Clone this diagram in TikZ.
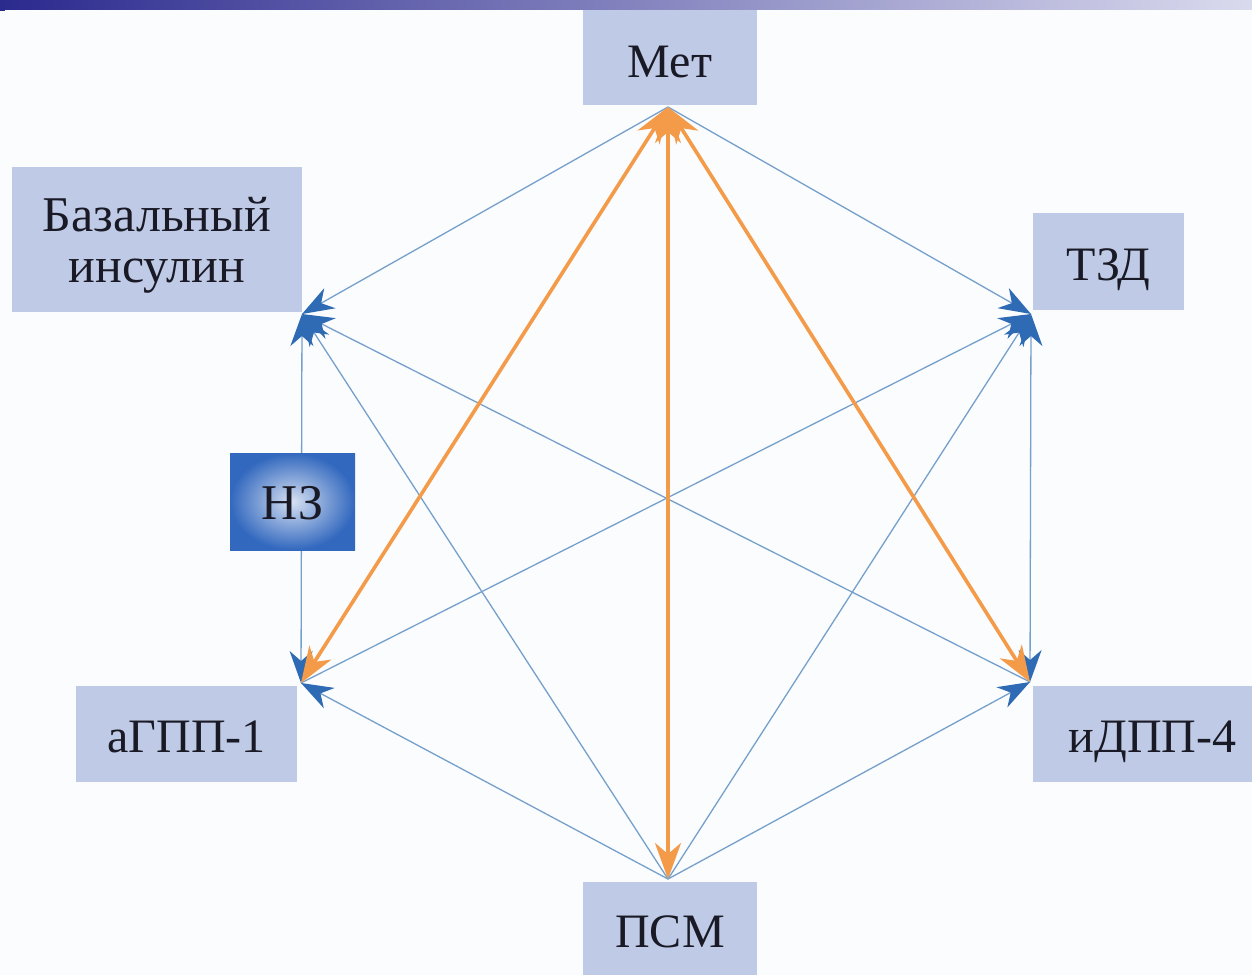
\documentclass[tikz,border=0pt]{standalone}
\usepackage{fontspec}
\setmainfont{Liberation Serif}
\usetikzlibrary{arrows.meta}
\definecolor{bgc}{HTML}{FBFCFE}
\definecolor{boxfill}{HTML}{BFCBE6}
\definecolor{lineblue}{HTML}{76A0CC}
\definecolor{tipblue}{HTML}{2E6BB4}
\definecolor{orng}{HTML}{F39B48}
\definecolor{txt}{HTML}{1A1A26}
\definecolor{barL}{HTML}{2B2A8E}
\definecolor{barR}{HTML}{DADAEE}
\definecolor{nzin}{HTML}{D6E0F2}
\definecolor{nzout}{HTML}{3268BE}
\begin{document}
\begin{tikzpicture}[x=1pt,y=-1pt,
  box/.style={fill=boxfill, inner sep=0pt, text=txt, font=\fontsize{48}{45}\selectfont, align=center, text height=37pt, text depth=0pt},
  bl/.style={draw=lineblue, line width=1.3pt},
  btip/.tip={Stealth[color=tipblue,length=32pt,width=23pt,inset=10pt]},
  otip/.tip={Stealth[color=orng,length=36pt,width=26pt,inset=11pt]},
  bt/.style={-btip},
  btt/.style={btip-btip},
  ol/.style={draw=orng, line width=3.6pt, otip-otip}
]
\useasboundingbox (0,0) rectangle (1252,975);
\fill[bgc] (0,0) rectangle (1252,975);

% boxes
\node[box, minimum width=174pt, minimum height=96pt, text height=40pt] (met) at (670,57) {Мет};
\node[box, minimum width=290pt, minimum height=145pt, font=\fontsize{50}{51}\selectfont, text height=, text depth=0pt] (bas) at (157,239.5) {Базальный\\инсулин};
\node[box, minimum width=151pt, minimum height=97pt] (tzd) at (1108.5,261.5) {ТЗД};
\node[box, minimum width=221pt, minimum height=96pt] (agpp) at (186.5,734) {аГПП-1};
\node[box, minimum width=239pt, minimum height=96pt] (idpp) at (1152.5,734) {иДПП-4};
\node[box, minimum width=174pt, minimum height=93pt, text height=38pt] (psm) at (670,928.5) {ПСМ};

% top bar
\shade[left color=barL, right color=barR] (0,0) rectangle (1252,9);
\fill[barL] (0,9) rectangle (5,11);

% hexagon points
\coordinate (pM) at (668,107);
\coordinate (pB) at (302,314);
\coordinate (pT) at (1031,314);
\coordinate (pA) at (301,683);
\coordinate (pD) at (1030,682);
\coordinate (pP) at (668,879);

% blue connectors
\draw[bl, bt] (pM) -- (pB);
\draw[bl, bt] (pM) -- (pT);
\draw[bl, bt] (pD) -- (pB);
\draw[bl, bt] (pA) -- (pT);
\draw[bl, bt] (pP) -- (pB);
\draw[bl, bt] (pP) -- (pT);
\draw[bl, bt] (pP) -- (pA);
\draw[bl, bt] (pP) -- (pD);
\draw[bl, btt] (pA) -- (pB);
\draw[bl, btt] (pD) -- (pT);

% orange connectors
\draw[ol] (pM) -- (pA);
\draw[ol] (pM) -- (pP);
\draw[ol] (pM) -- (pD);

% NZ box
\node[inner sep=0pt, minimum width=125pt, minimum height=97pt, inner color=nzin, outer color=nzout, text=txt, font=\fontsize{50}{50}\selectfont, text height=35pt, text depth=0pt] (nz) at (292.5,501.5) {НЗ};
\end{tikzpicture}
\end{document}
